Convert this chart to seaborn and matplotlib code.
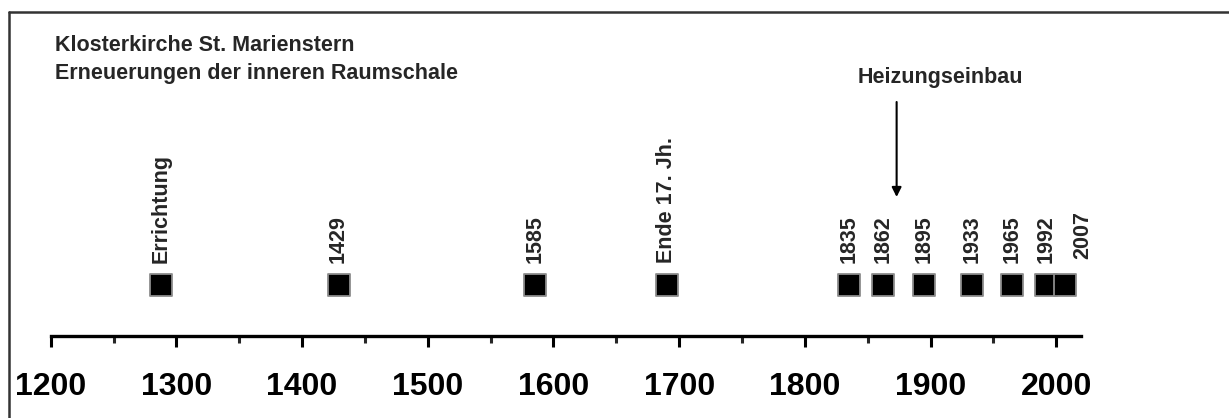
import seaborn as sns
import matplotlib.pyplot as plt
from matplotlib.lines import Line2D
import pandas as pd

# renovations of the inner room shell, one point per event
years = [1288, 1429, 1585, 1690, 1835, 1862, 1895, 1933, 1965, 1992, 2007]
labels = ["Errichtung", "1429", "1585", "Ende 17. Jh.", "1835", "1862",
          "1895", "1933", "1965", "1992", "2007"]
heating_year = 1873
major_ticks = [1200, 1300, 1400, 1500, 1600, 1700, 1800, 1900, 2000]
minor_ticks = [1250, 1350, 1450, 1550, 1650, 1750, 1850, 1950]

title_lines = ["Klosterkirche St. Marienstern",
               "Erneuerungen der inneren Raumschale"]

sns.set_style("white")
plt.rcParams["font.family"] = ["Liberation Sans", "DejaVu Sans"]
plt.rcParams["font.weight"] = "bold"

W, H = 1229, 418
fig = plt.figure(figsize=(W / 100, H / 100), dpi=100)
ax = fig.add_axes([50.7 / W, 82.3 / H, (1081.4 - 50.7) / W, (H - 12 - 82.3) / H])

level = (335.7 - 285) / (H - 12 - 82.3)
df = pd.DataFrame({"year": years, "label": labels})
df["level"] = level

sns.scatterplot(data=df, x="year", y="level", marker="s", s=240, color="black",
                edgecolor="#8c8c8c", linewidth=1.3, ax=ax, zorder=3, clip_on=False)

for i, row in df.iterrows():
    dx, dy = (18, 26) if row["label"] == "2007" else (0, 22)
    ax.annotate(row["label"], (row["year"], row["level"]), xytext=(dx, dy),
                textcoords="offset pixels", rotation=90, ha="center", va="bottom",
                fontsize=15.5, fontweight="bold", annotation_clip=False)

ax.set_xlim(1200, 2020)
ax.set_ylim(0, 1)
for s in ["left", "top", "right"]:
    ax.spines[s].set_visible(False)
ax.spines["bottom"].set_linewidth(2.4)
ax.spines["bottom"].set_color("black")
ax.set_yticks([])
ax.set_xticks(major_ticks)
ax.set_xticks(minor_ticks, minor=True)
ax.tick_params(axis="x", which="major", direction="out", length=8, width=2.2,
               pad=18, labelsize=23, colors="black", bottom=True)
ax.tick_params(axis="x", which="minor", direction="out", length=5, width=2.2,
               bottom=True)
for t in ax.get_xticklabels():
    t.set_fontweight("bold")
ax.set_xlabel("")
ax.set_ylabel("")
ax.patch.set_alpha(0)

# title
fig.text(55 / W, 1 - 51 / H, title_lines[0], fontsize=15.5, fontweight="bold", va="baseline")
fig.text(55 / W, 1 - 79 / H, title_lines[1], fontsize=15.5, fontweight="bold", va="baseline")

# heating note with arrow
fig.text(858 / W, 1 - 83 / H, "Heizungseinbau", fontsize=15.5, fontweight="bold", va="baseline")
ax.annotate("", xy=(heating_year, 1 - 197 / H), xytext=(heating_year, 1 - 102 / H),
            xycoords=("data", "figure fraction"), textcoords=("data", "figure fraction"),
            arrowprops=dict(arrowstyle="-|>", color="black", lw=1.5,
                            mutation_scale=14, shrinkA=0, shrinkB=0))

# frame (only left and top edges show)
fig.add_artist(Line2D([9 / W, 9 / W], [0, 1 - 12 / H], color="#333333", lw=1.8))
fig.add_artist(Line2D([9 / W, 1], [1 - 12 / H, 1 - 12 / H], color="#333333", lw=1.8))

fig.savefig("out.png", dpi=100)
